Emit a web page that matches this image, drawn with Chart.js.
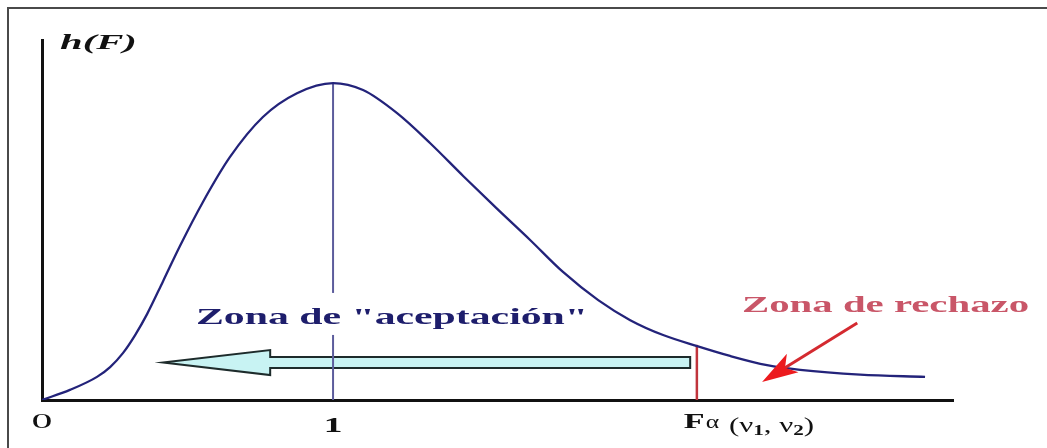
<!DOCTYPE html>
<html lang="es">
<head>
<meta charset="UTF-8">
<title>Distribución F</title>
<script src="https://cdn.jsdelivr.net/npm/chart.js"></script>
<style>
    body { margin: 0; background: #fff; }
    .wrap { position: relative; width: 1047px; height: 448px; }
    .frame {
        position: absolute; left: 7px; top: 7px; right: 0; bottom: 0;
        border-top: 2px solid #4a4a4a; border-left: 2px solid #4a4a4a;
        pointer-events: none;
    }
</style>
</head>
<body>
<div class="wrap">
    <canvas id="chart"></canvas>
    <div class="frame"></div>
</div>
<script>
// curva h(F)
const fVals = [0, 0.096, 0.189, 0.234, 0.278, 0.320, 0.361, 0.416, 0.474, 0.553, 0.646, 0.759, 0.876, 1.00,
               1.103, 1.220, 1.333, 1.447, 1.564, 1.677, 1.790, 1.911, 2.021, 2.134, 2.251, 2.364, 2.491, 2.605, 2.811, 3.034];
const hVals = [0, 0.032, 0.073, 0.104, 0.148, 0.205, 0.271, 0.375, 0.486, 0.625, 0.767, 0.893, 0.968, 1.00,
               0.978, 0.905, 0.811, 0.707, 0.603, 0.505, 0.404, 0.315, 0.252, 0.205, 0.170, 0.139, 0.110, 0.095, 0.080, 0.073];

// valores marcados en el eje
const modeF = 1;
const critF = 2.25;
const critH = 0.174;
const tickLabels = ['0', '1'];
const critLabel = ['F', 'α', ' (ν', '1', ', ν', '2', ')'];

const acceptText = 'Zona de "aceptación"';
const rejectText = 'Zona de rechazo';
const yTitle = 'h(F)';

const SX = 1.74; // la figura original está estirada a lo ancho

function wide(ctx, txt, x, y, font, color, sx) {
    sx = sx || SX;
    ctx.save();
    ctx.font = font;
    ctx.fillStyle = color;
    ctx.textBaseline = 'alphabetic';
    const w = ctx.measureText(txt).width * sx;
    ctx.translate(x, y);
    ctx.scale(sx, 1);
    ctx.fillText(txt, 0, 0);
    ctx.restore();
    return w;
}
function wideWidth(ctx, txt, font, sx) {
    ctx.save();
    ctx.font = font;
    const w = ctx.measureText(txt).width * (sx || SX);
    ctx.restore();
    return w;
}

const SERIF = '"Liberation Serif", "Times New Roman", serif';

const notes = {
    id: 'notes',
    beforeDatasetsDraw(chart) {
        // flecha celeste hacia la izquierda
        const { ctx, scales: { x, y } } = chart;
        const yc = y.getPixelForValue(0.118);
        const xt = x.getPixelForValue(0.416);
        const xh = x.getPixelForValue(0.784);
        const xe = x.getPixelForValue(2.227);
        ctx.save();
        ctx.beginPath();
        ctx.moveTo(xt, yc);
        ctx.lineTo(xh, yc - 12.5);
        ctx.lineTo(xh, yc - 5.5);
        ctx.lineTo(xe, yc - 5.5);
        ctx.lineTo(xe, yc + 5.5);
        ctx.lineTo(xh, yc + 5.5);
        ctx.lineTo(xh, yc + 12.5);
        ctx.closePath();
        ctx.fillStyle = '#c8f3f3';
        ctx.fill();
        ctx.strokeStyle = '#1d2b2b';
        ctx.lineWidth = 2;
        ctx.stroke();
        ctx.restore();
    },
    afterDatasetDraw(chart, args) {
        if (args.index !== 1) return;
        // recuadro blanco detrás del texto (corta la línea F = 1)
        const { ctx, scales: { x, y } } = chart;
        const left = x.getPixelForValue(0.529);
        const base = y.getPixelForValue(0.240);
        const w = wideWidth(ctx, acceptText, 'bold 24px ' + SERIF);
        ctx.save();
        ctx.fillStyle = '#fff';
        ctx.fillRect(left - 4, base - 31, w + 8, 42);
        ctx.restore();
    },
    afterDatasetsDraw(chart) {
        const { ctx, scales: { x, y } } = chart;
        const bottom = y.getPixelForValue(0);

        wide(ctx, acceptText, x.getPixelForValue(0.529), y.getPixelForValue(0.240), 'bold 24px ' + SERIF, '#1e1e6c');
        wide(ctx, rejectText, x.getPixelForValue(2.405), y.getPixelForValue(0.278), 'bold 24px ' + SERIF, '#c95668', 1.70);
        wide(ctx, yTitle, x.getPixelForValue(0) + 18, y.getPixelForValue(y.max) + 9, 'italic bold 22px ' + SERIF, '#111', 1.85);

        // flecha roja
        const ax = x.getPixelForValue(2.801), ay = y.getPixelForValue(0.243);
        const bx = x.getPixelForValue(2.474), by = y.getPixelForValue(0.057);
        const ang = Math.atan2(by - ay, bx - ax);
        const hl = 36, hw = 11;
        const cx = bx - hl * Math.cos(ang), cy = by - hl * Math.sin(ang);
        const nx = bx - hl * 0.75 * Math.cos(ang), ny = by - hl * 0.75 * Math.sin(ang);
        ctx.save();
        ctx.strokeStyle = '#d42a30';
        ctx.lineWidth = 3;
        ctx.beginPath();
        ctx.moveTo(ax, ay);
        ctx.lineTo(nx, ny);
        ctx.stroke();
        ctx.beginPath();
        ctx.moveTo(bx, by);
        ctx.lineTo(cx + hw * Math.sin(ang), cy - hw * Math.cos(ang));
        ctx.lineTo(nx, ny);
        ctx.lineTo(cx - hw * Math.sin(ang), cy + hw * Math.cos(ang));
        ctx.closePath();
        ctx.fillStyle = '#ec1a1e';
        ctx.fill();
        ctx.restore();

        // etiquetas del eje F
        const f0 = 'bold 22px ' + SERIF;
        let w = wideWidth(ctx, tickLabels[0], '22px ' + SERIF, 1.9);
        wide(ctx, tickLabels[0], x.getPixelForValue(0) - w / 2, bottom + 28, '22px ' + SERIF, '#111', 1.9);
        w = wideWidth(ctx, tickLabels[1], f0, 1.7);
        wide(ctx, tickLabels[1], x.getPixelForValue(modeF) - w / 2, bottom + 32, f0, '#111', 1.7);

        let px = x.getPixelForValue(critF) - 13;
        px += wide(ctx, critLabel[0], px, bottom + 28, f0, '#111', 1.55);
        px += wide(ctx, critLabel[1], px + 1, bottom + 28, '19px ' + SERIF, '#111', 1.35) + 3;
        px += wide(ctx, critLabel[2], px, bottom + 32, '20px ' + SERIF, '#111', 1.55);
        px += wide(ctx, critLabel[3], px, bottom + 35, 'bold 15px ' + SERIF, '#111', 1.4);
        px += wide(ctx, critLabel[4], px, bottom + 32, '20px ' + SERIF, '#111', 1.55);
        px += wide(ctx, critLabel[5], px, bottom + 35, 'bold 15px ' + SERIF, '#111', 1.4);
        wide(ctx, critLabel[6], px, bottom + 32, '20px ' + SERIF, '#111', 1.55);
    }
};

const curve = fVals.map((f, i) => ({ x: f, y: hVals[i] }));
const modeIdx = fVals.indexOf(modeF);

new Chart(document.getElementById('chart'), {
    type: 'scatter',
    data: {
        datasets: [
            {
                data: curve,
                showLine: true,
                borderColor: '#23237a',
                borderWidth: 2.3,
                pointRadius: 0,
                cubicInterpolationMode: 'monotone'
            },
            {
                data: [{ x: modeF, y: 0 }, { x: modeF, y: hVals[modeIdx] }],
                showLine: true,
                borderColor: '#5c5c9c',
                borderWidth: 2,
                pointRadius: 0
            },
            {
                data: [{ x: critF, y: 0 }, { x: critF, y: critH }],
                showLine: true,
                borderColor: '#c0343c',
                borderWidth: 2.5,
                pointRadius: 0
            }
        ]
    },
    options: {
        responsive: true,
        maintainAspectRatio: false,
        animation: false,
        layout: { padding: { left: 34, top: 40, right: 94, bottom: 40 } },
        plugins: { legend: { display: false }, tooltip: { enabled: false } },
        scales: {
            x: {
                type: 'linear', min: 0, max: 3.13,
                grid: { display: false }, ticks: { display: false },
                border: { color: '#111', width: 3 }
            },
            y: {
                min: 0, max: 1.136,
                grid: { display: false }, ticks: { display: false },
                border: { color: '#111', width: 3 }
            }
        }
    },
    plugins: [notes]
});
</script>
</body>
</html>
